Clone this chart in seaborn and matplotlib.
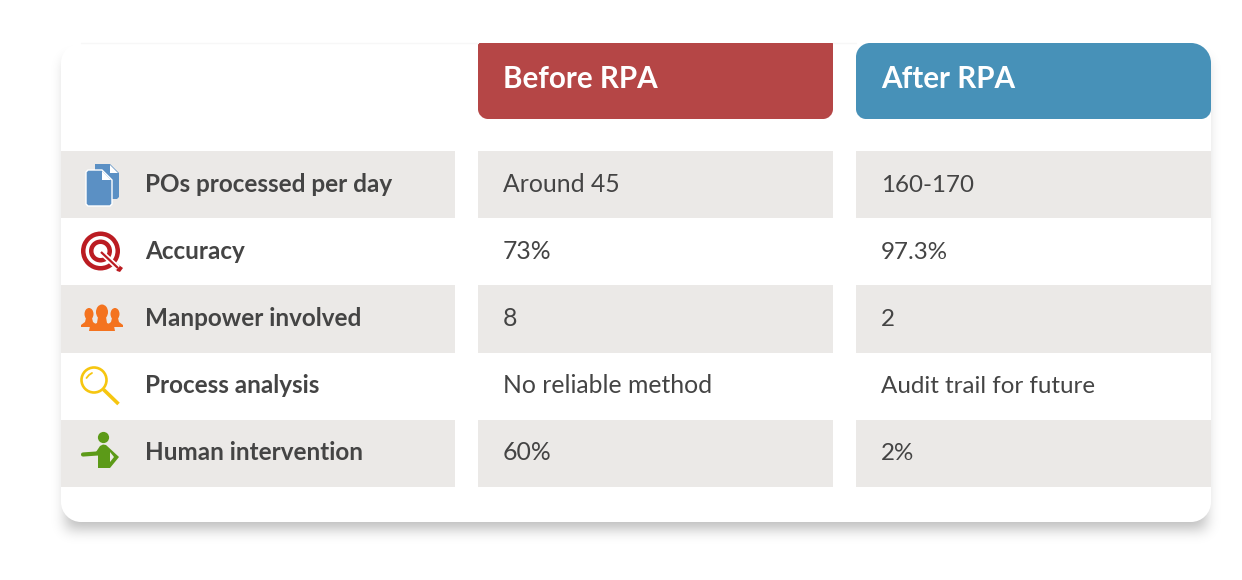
import math
import numpy as np
import pandas as pd
import seaborn as sns
import matplotlib.pyplot as plt
from matplotlib.colors import ListedColormap
from matplotlib.patches import Circle, Ellipse, PathPatch, Polygon, Wedge
from matplotlib.path import Path

row_labels = [
    "POs processed per day",
    "Accuracy",
    "Manpower involved",
    "Process analysis",
    "Human intervention",
]
before_values = ["Around 45", "73%", "8", "No reliable method", "60%"]
after_values = ["160-170", "97.3%", "2", "Audit trail for future", "2%"]
headers = ["Before RPA", "After RPA"]
stripes = [1, 0, 1, 0, 1]

W, H = 1242, 580
GREY = "#ebe9e7"
TEXT = "#444444"

sns.set_theme(style="white")
plt.rcParams["font.family"] = ["Lato", "DejaVu Sans"]


def rounded(x0, y0, x1, y1, tl=0, tr=0, br=0, bl=0):
    # y grows downward here, the overlay axes is in pixels
    k = 0.45
    v = [(x0 + tl, y0), (x1 - tr, y0), (x1 - tr * k, y0), (x1, y0 + tr * k), (x1, y0 + tr),
         (x1, y1 - br), (x1, y1 - br * k), (x1 - br * k, y1), (x1 - br, y1),
         (x0 + bl, y1), (x0 + bl * k, y1), (x0, y1 - bl * k), (x0, y1 - bl),
         (x0, y0 + tl), (x0, y0 + tl * k), (x0 + tl * k, y0), (x0 + tl, y0), (x0 + tl, y0)]
    c = [Path.MOVETO, Path.LINETO, Path.CURVE4, Path.CURVE4, Path.CURVE4,
         Path.LINETO, Path.CURVE4, Path.CURVE4, Path.CURVE4,
         Path.LINETO, Path.CURVE4, Path.CURVE4, Path.CURVE4,
         Path.LINETO, Path.CURVE4, Path.CURVE4, Path.CURVE4, Path.CLOSEPOLY]
    return Path(v, c)


def box(ax, x0, y0, x1, y1, color, tl=0, tr=0, br=0, bl=0, **kw):
    p = PathPatch(rounded(x0, y0, x1, y1, tl, tr, br, bl), fc=color, ec="none", **kw)
    ax.add_patch(p)
    return p


def pixel_axes(x0, y0, x1, y1, **kw):
    return fig.add_axes([x0 / W, 1 - y1 / H, (x1 - x0) / W, (y1 - y0) / H], **kw)


def soft_edge(coords, lo, hi, sigma):
    erf = np.vectorize(math.erf)
    s = sigma * math.sqrt(2)
    return 0.5 * (erf((coords - lo) / s) - erf((coords - hi) / s))


fig = plt.figure(figsize=(W / 100, H / 100), dpi=100, facecolor="white")

# card and shadow, everything in pixels
bg = pixel_axes(0, 0, W, H, zorder=0)
shadow = np.zeros((H, W, 4))
xs, ys = np.arange(W) + 0.5, np.arange(H) + 0.5
shadow[..., 3] = 0.27 * np.outer(soft_edge(ys, 60, 529, 7), soft_edge(xs, 66, 1206, 7))
bg.imshow(shadow, extent=(0, W, H, 0), interpolation="nearest", aspect="auto")
bg.set_xlim(0, W)
bg.set_ylim(H, 0)
bg.axis("off")
box(bg, 61, 43, 1211, 522, "white", tl=20, tr=20, br=20, bl=20)
bg.plot([81, 478], [43, 43], color="#f7f7f7", lw=1)
bg.plot([833, 856], [43, 43], color="#f7f7f7", lw=1)
box(bg, 478, 43, 833, 119, "#b54646", br=10, bl=10)
box(bg, 856, 43, 1211, 119, "#4791b8", tl=14, tr=20, br=10, bl=10)

# striped table columns
columns = [
    (61, 455, row_labels, 84, "bold", 17.5),
    (478, 833, before_values, 25, "normal", 17.8),
    (856, 1211, after_values, 25, "normal", 17.4),
]
for x0, x1, texts, pad, weight, size in columns:
    ax = pixel_axes(x0, 151, x1, 487, zorder=1)
    ax.patch.set_alpha(0)
    sns.heatmap(
        pd.DataFrame({"band": stripes}),
        ax=ax,
        cmap=ListedColormap(["white", GREY]),
        vmin=0,
        vmax=1,
        cbar=False,
        xticklabels=False,
        yticklabels=False,
    )
    for r, label in enumerate(texts):
        ax.text(
            pad / (x1 - x0),
            r + 0.5 + 7 / 67.2,
            label,
            transform=ax.get_yaxis_transform(),
            ha="left",
            va="baseline",
            fontsize=size,
            fontweight=weight,
            color=TEXT,
        )

# overlay for header text and icons
top = pixel_axes(0, 0, W, H, zorder=2)
top.set_xlim(0, W)
top.set_ylim(H, 0)
top.axis("off")
top.patch.set_alpha(0)
for x, label in zip([503, 881], headers):
    top.text(x, 88, label, color="white", fontsize=21.3, fontweight="bold", ha="left", va="baseline")

# documents
blue = "#5b90c4"
top.add_patch(Polygon([(95, 164), (110, 164), (119, 173), (119, 197), (117, 199), (95, 199)], fc=blue, ec="none"))
top.add_patch(Polygon([(88, 170), (102, 170), (112, 180), (112, 204), (110, 206), (88, 206), (86, 204), (86, 172)],
                      fc=blue, ec="white", lw=1))
top.add_patch(Polygon([(102, 171), (111, 180), (102, 180)], fc="white", ec="none"))
top.add_patch(Polygon([(110, 165), (118, 173), (110, 173)], fc="white", ec="none"))

# target
red = "#bb1c22"
top.add_patch(Wedge((100.5, 251), 19.5, 0, 360, width=4.5, fc=red, ec="none"))
top.add_patch(Wedge((100.5, 251), 11.5, 0, 360, width=4.5, fc=red, ec="none"))
top.plot([101, 118], [252, 268], color="white", lw=4, solid_capstyle="butt")
top.plot([101, 118], [252, 268], color=red, lw=1.6, solid_capstyle="butt")
top.add_patch(Polygon([(113, 266), (116, 263), (123, 268), (120, 272), (117, 271)], fc=red, ec="none"))

# people
orange = "#f4731f"
for cx in (89, 115):
    top.add_patch(Ellipse((cx, 314), 9, 12, fc=orange, ec="none"))
    top.add_patch(Polygon([(cx - 3, 318), (cx + 3, 318), (cx + 4, 322), (cx + 8, 325), (cx + 8, 327),
                           (cx - 8, 327), (cx - 8, 325), (cx - 4, 322)], fc=orange, ec="none"))
top.add_patch(Ellipse((102, 312), 12, 15, fc=orange, ec="none"))
top.add_patch(Polygon([(98, 317), (106, 317), (107, 323), (114, 326), (115, 331), (89, 331), (90, 326), (97, 323)],
                      fc=orange, ec="none"))

# magnifier
yellow = "#f6c610"
top.add_patch(Circle((94, 380), 12.5, fc="none", ec=yellow, lw=1.9))
top.plot([103.5, 118.5], [389.5, 404], color=yellow, lw=2.6, solid_capstyle="butt")
top.plot([86.5, 89, 92], [378, 375, 373], color=yellow, lw=1.3)

# person pointing
green = "#5c9a18"
top.add_patch(Circle((103.5, 437.5), 5.6, fc=green, ec="none"))
top.plot([83, 97], [454.5, 453.5], color=green, lw=3, solid_capstyle="round")
top.add_patch(Polygon(
    [(96, 452), (100, 446), (103, 444.5), (106, 445), (119, 457), (110, 468), (98, 468), (98, 456)],
    fc=green, ec="none"))
top.add_patch(Polygon([(110, 452), (114, 457), (110, 462)], fc=GREY, ec="none"))

fig.savefig("out.png", dpi=100)
